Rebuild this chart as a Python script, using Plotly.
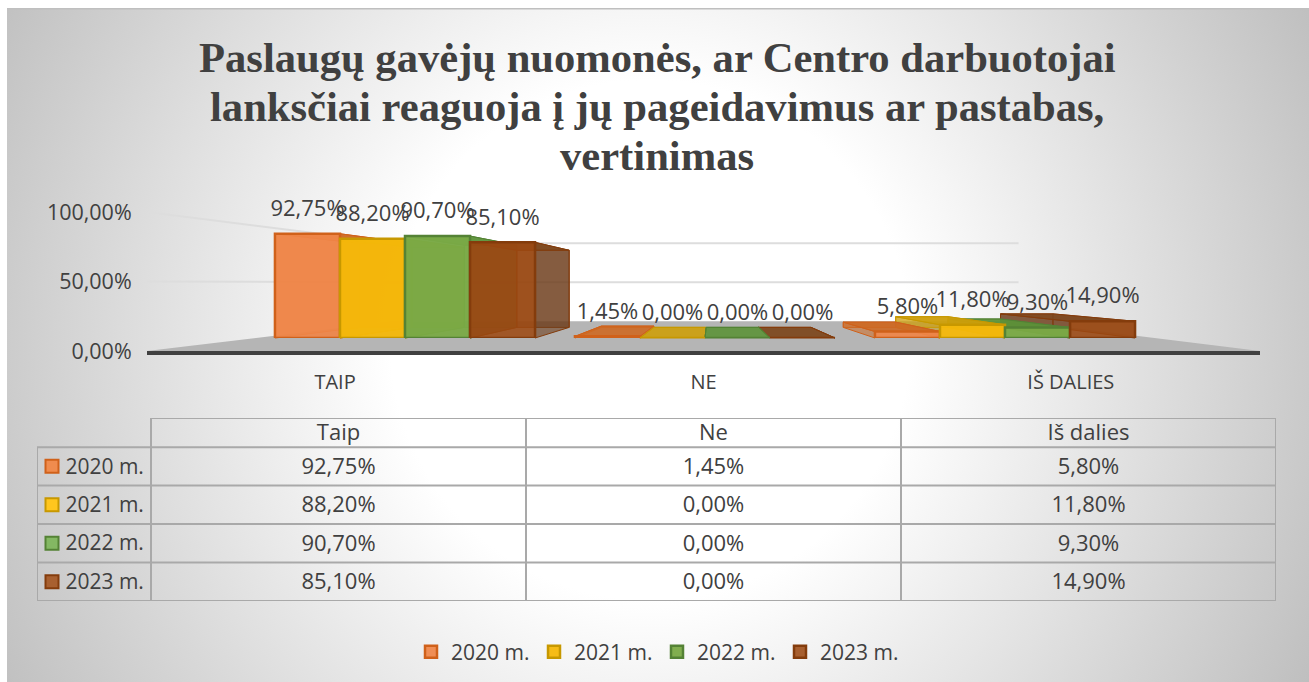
import base64
import plotly.graph_objects as go

W, H = 1309, 682
title_lines = ["Paslaugų gavėjų nuomonės, ar Centro darbuotojai",
               "lanksčiai reaguoja į jų pageidavimus ar pastabas,",
               "vertinimas"]
categories = ["TAIP", "NE", "IŠ DALIES"]
table_headers = ["Taip", "Ne", "Iš dalies"]
series_names = ["2020 m.", "2021 m.", "2022 m.", "2023 m."]
v2020 = [92.75, 1.45, 5.80]
v2021 = [88.20, 0.00, 11.80]
v2022 = [90.70, 0.00, 9.30]
v2023 = [85.10, 0.00, 14.90]
series_values = [v2020, v2021, v2022, v2023]
y_ticks = [0, 50, 100]
y_tick_labels = ["0,00%", "50,00%", "100,00%"]

front_rgba = ["rgba(240,134,72,0.92)", "rgba(245,184,10,0.95)", "rgba(122,170,70,0.95)", "rgba(156,72,17,0.87)"]
swatch = ["#F08C4E", "#FFC61E", "#84B863", "#A86030"]
border = ["#D0611A", "#C79800", "#548235", "#843C0C"]
top_rgba = ["rgba(205,105,35,0.9)", "rgba(205,158,10,0.9)", "rgba(92,146,56,0.9)", "rgba(125,70,28,0.92)"]
side_rgba = ["rgba(205,105,35,0.55)", "rgba(205,158,10,0.5)", "rgba(92,146,56,0.5)", "rgba(110,62,28,0.6)"]
TEXT = "#404040"
FONT = "Open Sans"
FS = 22

def fmt(v):
    return f"{v:.2f}".replace(".", ",") + "%"

def px(p):
    return p / W

def py(p):
    return 1 - p / H

# perspective of Excel's 3-D bars, in main-axis units
xv, yv = 1.021, 48.8
s_front, s_back, s_wall = 0.8086, 0.652, 0.56
bar_w = 0.2167

def P(x, v, s):
    return xv + (x - xv) * s, yv + (v - yv) * s

def poly(points, color, line=None, width=1):
    xs = [p[0] for p in points] + [points[0][0]]
    ys = [p[1] for p in points] + [points[0][1]]
    return go.Scatter(x=xs, y=ys, mode="lines", fill="toself", fillcolor=color,
                      line=dict(color=line or "rgba(0,0,0,0)", width=width),
                      hoverinfo="skip", showlegend=False, cliponaxis=False)

fig = go.Figure()

# floor and walls
fig.add_trace(poly([P(-0.5, 0, 1), P(2.5, 0, 1), P(2.5, 0, s_wall), P(-0.5, 0, s_wall)], "#b5b5b5"))
for v in y_ticks[1:]:
    a, b, c = P(-0.5, v, 1), P(-0.5, v, s_wall), P(2.5, v, s_wall)
    fig.add_trace(go.Scatter(x=[a[0], b[0], c[0]], y=[a[1], b[1], c[1]], mode="lines",
                             line=dict(color="#dddddd", width=2), hoverinfo="skip", showlegend=False))

# hidden faces of the 3-D bars
for c in range(3):
    order = sorted(range(4), key=lambda i: -abs(c + (i - 1.5) * bar_w - xv))
    for i in order:
        v = series_values[i][c]
        x0 = c + (i - 2) * bar_w
        x1 = x0 + bar_w
        col, bd = top_rgba[i], border[i]
        fig.add_trace(poly([P(x0, 0, s_back), P(x1, 0, s_back), P(x1, v, s_back), P(x0, v, s_back)], side_rgba[i], bd, 1))
        fig.add_trace(poly([P(x0, 0, s_front), P(x0, 0, s_back), P(x0, v, s_back), P(x0, v, s_front)], side_rgba[i], bd, 1))
        fig.add_trace(poly([P(x1, 0, s_front), P(x1, 0, s_back), P(x1, v, s_back), P(x1, v, s_front)], side_rgba[i], bd, 1))
        fig.add_trace(poly([P(x0, v, s_front), P(x1, v, s_front), P(x1, v, s_back), P(x0, v, s_back)], col, bd, 1))

# front faces and value labels on the front plane of the bars
for i, name in enumerate(series_names):
    fig.add_trace(go.Bar(x=[0, 1, 2], y=series_values[i], name=name, xaxis="x2", yaxis="y2",
                         marker=dict(color=front_rgba[i], line=dict(color=border[i], width=2.5)),
                         hoverinfo="skip"))
for i, name in enumerate(series_names):
    fig.add_trace(go.Scatter(x=[c + (i - 1.5) * bar_w for c in range(3)], y=series_values[i],
                             xaxis="x2", yaxis="y2", mode="markers+text",
                             text=[fmt(v) for v in series_values[i]], textposition="top center",
                             textfont=dict(family=FONT, size=FS, color=TEXT),
                             marker=dict(size=18, opacity=0), cliponaxis=False,
                             hoverinfo="skip", showlegend=False))

# data table on its own axes: x = column index, y = row index
col0 = -114 / 375
hdr = -29 / 38.3
nudge = 0.05
for c, h in enumerate(table_headers):
    fig.add_trace(go.Scatter(x=[c + 0.5], y=[hdr / 2 + nudge], xaxis="x3", yaxis="y3", mode="text", text=[h],
                             textfont=dict(family=FONT, size=FS, color=TEXT), hoverinfo="skip", showlegend=False))
for r, name in enumerate(series_names):
    fig.add_trace(go.Scatter(x=[c + 0.5 for c in range(3)], y=[r + 0.5 + nudge] * 3, xaxis="x3", yaxis="y3",
                             mode="text", text=[fmt(v) for v in series_values[r]],
                             textfont=dict(family=FONT, size=FS, color=TEXT), hoverinfo="skip", showlegend=False))
    fig.add_trace(go.Scatter(x=[-0.019], y=[r + 0.5 + nudge], xaxis="x3", yaxis="y3", mode="text", text=[name],
                             textposition="middle left",
                             textfont=dict(family=FONT, size=21, color=TEXT), hoverinfo="skip", showlegend=False))
    fig.add_trace(go.Scatter(x=[col0 + 0.04], y=[r + 0.5], xaxis="x3", yaxis="y3", mode="markers",
                             marker=dict(symbol="square", size=13, color=swatch[r], line=dict(color=border[r], width=2)),
                             hoverinfo="skip", showlegend=False))

shapes = []
grid = dict(color="#a9a9a9", width=2)
shapes.append(dict(type="line", xref="x3", yref="y3", x0=0, x1=3, y0=hdr, y1=hdr, line=grid))
for r in range(5):
    shapes.append(dict(type="line", xref="x3", yref="y3", x0=col0, x1=3, y0=r, y1=r, line=grid))
shapes.append(dict(type="line", xref="x3", yref="y3", x0=col0, x1=col0, y0=0, y1=4, line=grid))
for c in range(4):
    shapes.append(dict(type="line", xref="x3", yref="y3", x0=c, x1=c, y0=hdr, y1=4, line=grid))

# chart-area background: radial gradient with a thin darker top edge
svg = ('<svg xmlns="http://www.w3.org/2000/svg" width="1302" height="674">'
       '<defs><radialGradient id="g" gradientUnits="userSpaceOnUse" cx="643" cy="332" r="742">'
       '<stop offset="0" stop-color="#ffffff"/><stop offset="0.35" stop-color="#ffffff"/>'
       '<stop offset="1" stop-color="#bfbfbf"/></radialGradient></defs>'
       '<rect width="1302" height="674" fill="url(#g)"/>'
       '<rect width="1302" height="1.5" fill="#bfbfbf"/></svg>')
bg = "data:image/svg+xml;base64," + base64.b64encode(svg.encode()).decode()

title_y = [57, 107, 155]
annotations = [dict(text=f"<b>{t}</b>", xref="paper", yref="paper", x=657 / W, y=py(y), xanchor="center",
                    yanchor="middle", showarrow=False,
                    font=dict(family="Liberation Serif", size=42.6, color=TEXT))
               for t, y in zip(title_lines, title_y)]

fig.update_layout(
    width=W, height=H, margin=dict(l=0, r=0, t=0, b=0, autoexpand=False), autosize=False,
    paper_bgcolor="white", plot_bgcolor="rgba(0,0,0,0)",
    barmode="group", bargap=0.133, bargroupgap=0,
    font=dict(family=FONT, color=TEXT, size=FS),
    xaxis=dict(domain=[px(147), px(1260)], range=[-0.5, 2.5], tickvals=[0.007, 1, 1.99], ticktext=categories,
               showgrid=False, zeroline=False, showline=True, linecolor="#404040", linewidth=4,
               ticks="outside", ticklen=10, tickcolor="rgba(0,0,0,0)", tickfont=dict(family=FONT, size=20, color=TEXT)),
    yaxis=dict(domain=[py(351), py(212)], range=[0, 100], tickvals=y_ticks, ticktext=y_tick_labels,
               showgrid=False, zeroline=False, showline=False,
               ticks="outside", ticklen=10, tickcolor="rgba(0,0,0,0)", tickfont=dict(family=FONT, size=21.5, color=TEXT)),
    xaxis2=dict(domain=[px(255), px(1155)], range=[-0.5, 2.5], anchor="y2", visible=False),
    yaxis2=dict(domain=[py(338), py(225.6)], range=[0, 100], anchor="x2", visible=False),
    xaxis3=dict(domain=[px(37), px(1276)], range=[col0, 3], anchor="y3", visible=False),
    yaxis3=dict(domain=[py(601), py(418)], range=[4, hdr], anchor="x3", visible=False),
    legend=dict(orientation="h", x=657 / W, xanchor="center", y=py(652), yanchor="middle", entrywidth=78,
                bgcolor="rgba(0,0,0,0)", font=dict(family=FONT, size=21, color=TEXT), traceorder="normal"),
    shapes=shapes,
    annotations=annotations,
    images=[dict(source=bg, xref="paper", yref="paper", x=px(7), y=py(8), sizex=1302 / W, sizey=674 / H,
                 xanchor="left", yanchor="top", sizing="stretch", layer="below")],
)

fig.write_html("out.html", config={"displayModeBar": False},
               post_script="document.body.style.margin='0';document.body.style.overflow='hidden';")
